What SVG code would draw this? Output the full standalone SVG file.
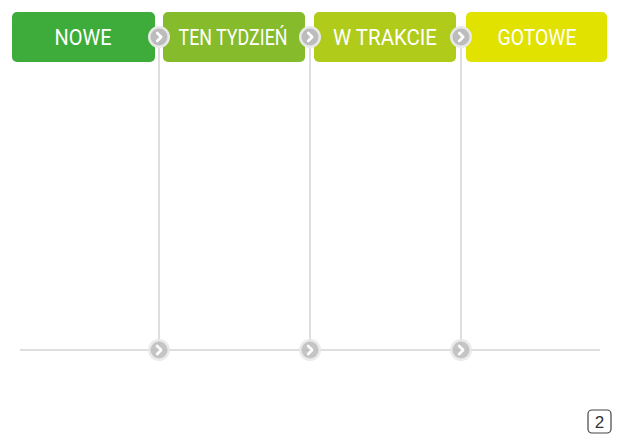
<svg xmlns="http://www.w3.org/2000/svg" width="620" height="443" viewBox="0 0 620 443">
<defs>
<style>
.lbl{font-family:Roboto,"Liberation Sans",sans-serif;font-size:22px;font-weight:400;fill:#ffffff;text-anchor:middle;}
.ln{stroke:#dedede;stroke-width:2;fill:none;}
.ring{fill:#e8e8e8;}
.dot{fill:#bcbcbc;}
.chev{fill:none;stroke:#ffffff;stroke-width:2.6;stroke-linecap:round;stroke-linejoin:round;}
</style>
<g id="arrow">
<circle class="ring" r="11"/>
<circle class="dot" r="8.5"/>
<path class="chev" d="M-1.8,-4 L2.2,0 L-1.8,4"/>
</g>
</defs>
<rect width="620" height="443" fill="#ffffff"/>
<g id="connectors">
<line class="ln" x1="159" y1="37" x2="159" y2="350"/>
<line class="ln" x1="310" y1="37" x2="310" y2="350"/>
<line class="ln" x1="461" y1="37" x2="461" y2="350"/>
<line class="ln" x1="20" y1="350" x2="600" y2="350"/>
</g>
<g id="nowe">
<rect x="12" y="12" width="143" height="50" rx="5" fill="#3dac3b"/>
<text class="lbl" x="83" y="45" textLength="57" lengthAdjust="spacingAndGlyphs">NOWE</text>
</g>
<g id="ten-tydzien">
<rect x="163" y="12" width="142" height="50" rx="5" fill="#86bb2c"/>
<text class="lbl" x="233" y="45" textLength="109" lengthAdjust="spacingAndGlyphs">TEN TYDZIEŃ</text>
</g>
<g id="w-trakcie">
<rect x="314" y="12" width="142" height="50" rx="5" fill="#b1cb1a"/>
<text class="lbl" x="385" y="45" textLength="104" lengthAdjust="spacingAndGlyphs">W TRAKCIE</text>
</g>
<g id="gotowe">
<rect x="466" y="12" width="141" height="50" rx="5" fill="#e1e200"/>
<text class="lbl" x="537" y="45" textLength="79" lengthAdjust="spacingAndGlyphs">GOTOWE</text>
</g>
<g id="arrows-top">
<use href="#arrow" x="159" y="37"/>
<use href="#arrow" x="310" y="37"/>
<use href="#arrow" x="461" y="37"/>
</g>
<g id="arrows-bottom" opacity="0.85">
<use href="#arrow" x="159" y="350"/>
<use href="#arrow" x="310" y="350"/>
<use href="#arrow" x="461" y="350"/>
</g>
<g id="page-number">
<rect x="588" y="410" width="23" height="23" rx="4" fill="#ffffff" stroke="#444444" stroke-width="1.2"/>
<text x="599.5" y="428" font-family="'Liberation Sans',sans-serif" font-size="17" fill="#333333" text-anchor="middle">2</text>
</g>
</svg>
